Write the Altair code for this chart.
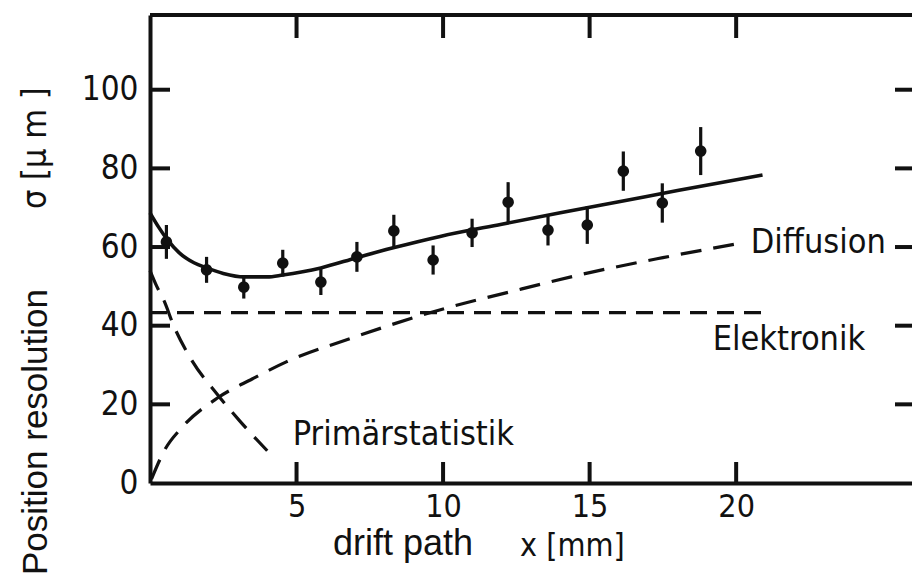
import altair as alt
import pandas as pd

# ---- data ----
pt_x = [0.56, 1.93, 3.2, 4.53, 5.83, 7.06, 8.32, 9.66, 10.99, 12.22, 13.58, 14.92, 16.15, 17.48, 18.79]
pt_sigma = [61.3, 54.2, 49.8, 55.9, 51.1, 57.5, 64.1, 56.7, 63.6, 71.4, 64.3, 65.6, 79.3, 71.2, 84.4]
pt_err = [4.3, 3.3, 2.9, 3.4, 3.3, 3.8, 4.1, 3.7, 3.6, 5.1, 3.9, 4.8, 5.0, 5.0, 6.1]

fit_x = [0, 0.3, 0.6, 1.0, 1.5, 1.93, 2.5, 3.2, 4.0, 4.53, 5.83, 7.06, 8.3, 9.9, 12, 14, 16, 18, 20.9]
fit_sigma = [68.7, 65, 61.8, 58.5, 56, 54.7, 53.3, 52.4, 52.4, 52.9, 54.7, 57.3, 59.8, 62.7, 65.8, 68.7, 71.5, 74.4, 78.3]

diff_x = [0.05, 0.5, 1.1, 2.3, 3.5, 4.65, 6.9, 9.55, 12.5, 15, 17.5, 20.15]
diff_sigma = [1, 8.4, 14.2, 21.6, 26.5, 30.8, 36.9, 43.3, 49.0, 53.5, 57.3, 61.0]

prim_x = [0, 0.2, 0.5, 0.78, 1.36, 2.3, 3.06, 4.0]
prim_sigma = [54, 50.5, 46, 40.5, 32, 22.5, 15.8, 8.2]

elek_x = [0, 20.9]
elek_sigma = [43.3, 43.3]

label_text = ["Diffusion", "Elektronik", "Primärstatistik"]
label_x = [20.5, 19.2, 4.87]
label_sigma = [58.5, 33.8, 9.67]

y_tick_labels = [0, 20, 40, 60, 80, 100]
y_tick_marks = [20, 40, 60, 80, 100]
x_tick_labels = [5, 10, 15, 20]

# ---- styling ----
W, H = 762, 468
INK = "#111111"
DIN_FONT = "DejaVu Sans Condensed, DejaVu Sans, sans-serif"
SANS = "Liberation Sans, Arial, sans-serif"

xs = alt.Scale(domain=[0, 26], nice=False, zero=False)
ys = alt.Scale(domain=[0, 119], nice=False, zero=False)

x_axis = alt.Axis(values=x_tick_labels, ticks=False, grid=False, title=None,
                  domainWidth=4, domainColor=INK, labelFont=DIN_FONT,
                  labelFontSize=32, labelColor=INK, labelPadding=8, labelFlush=False)
y_axis = alt.Axis(values=y_tick_labels, ticks=False, grid=False, title=None,
                  domainWidth=4, domainColor=INK, labelFont=DIN_FONT,
                  labelFontSize=33, labelColor=INK, labelPadding=12, labelFlush=False)


def X(f):
    return alt.X(f, type="quantitative", scale=xs, axis=x_axis)


def Y(f):
    return alt.Y(f, type="quantitative", scale=ys, axis=y_axis)


pts = pd.DataFrame({
    "x": pt_x,
    "s": pt_sigma,
    "lo": [s - e for s, e in zip(pt_sigma, pt_err)],
    "hi": [s + e for s, e in zip(pt_sigma, pt_err)],
})

errbars = alt.Chart(pts).mark_rule(strokeWidth=3.2, color=INK).encode(
    x=X("x"), y=Y("lo"), y2="hi")
dots = alt.Chart(pts).mark_circle(size=135, color=INK, opacity=1).encode(
    x=X("x"), y=Y("s"))

fit = alt.Chart(pd.DataFrame({"x": fit_x, "s": fit_sigma})).mark_line(
    color=INK, strokeWidth=3.6, interpolate="monotone").encode(x=X("x"), y=Y("s"))
diff = alt.Chart(pd.DataFrame({"x": diff_x, "s": diff_sigma})).mark_line(
    color=INK, strokeWidth=3.2, strokeDash=[21, 12], interpolate="monotone").encode(x=X("x"), y=Y("s"))
prim = alt.Chart(pd.DataFrame({"x": prim_x, "s": prim_sigma})).mark_line(
    color=INK, strokeWidth=3.2, strokeDash=[21, 12], interpolate="monotone").encode(x=X("x"), y=Y("s"))
elek = alt.Chart(pd.DataFrame({"x": elek_x, "s": elek_sigma})).mark_line(
    color=INK, strokeWidth=3.2, strokeDash=[17, 10]).encode(x=X("x"), y=Y("s"))

labels = alt.Chart(pd.DataFrame({"x": label_x, "s": label_sigma, "t": label_text})).mark_text(
    align="left", baseline="alphabetic", font=DIN_FONT, fontSize=34, color=INK).encode(
    x=X("x"), y=Y("s"), text="t:N")

# frame ticks (pointing inward) and top border
ydf = pd.DataFrame({"v": y_tick_marks})
xdf = pd.DataFrame({"v": x_tick_labels})
one = pd.DataFrame({"a": [0]})

left_ticks = alt.Chart(ydf).mark_rule(strokeWidth=4, color=INK).encode(
    y=Y("v"), x=alt.value(0), x2=alt.value(20))
right_ticks = alt.Chart(ydf).mark_rule(strokeWidth=4, color=INK).encode(
    y=Y("v"), x=alt.value(W - 17), x2=alt.value(W))
top_ticks = alt.Chart(xdf).mark_rule(strokeWidth=4, color=INK).encode(
    x=X("v"), y=alt.value(0), y2=alt.value(23))
bottom_ticks = alt.Chart(xdf).mark_rule(strokeWidth=4, color=INK).encode(
    x=X("v"), y=alt.value(H), y2=alt.value(H - 21))
top_border = alt.Chart(one).mark_rule(strokeWidth=4, color=INK).encode(
    x=alt.value(0), x2=alt.value(W), y=alt.value(0))

# axis titles
t_pos = alt.Chart(one).mark_text(align="left", baseline="alphabetic", angle=270,
                                 font=SANS, fontSize=35, color=INK).encode(
    x=alt.value(-103), y=alt.value(560), text=alt.value("Position resolution"))
t_sig = alt.Chart(one).mark_text(align="left", baseline="alphabetic", angle=270,
                                 font=DIN_FONT, fontSize=34, color=INK).encode(
    x=alt.value(-104), y=alt.value(194), text=alt.value("σ [µ m ]"))
t_drift = alt.Chart(one).mark_text(align="left", baseline="alphabetic",
                                   font=SANS, fontSize=36, color=INK).encode(
    x=alt.value(183), y=alt.value(540), text=alt.value("drift path"))
t_xmm = alt.Chart(one).mark_text(align="left", baseline="alphabetic",
                                 font=DIN_FONT, fontSize=32, color=INK).encode(
    x=alt.value(370), y=alt.value(541), text=alt.value("x  [mm]"))

chart = alt.layer(
    elek, diff, prim, fit, errbars, dots, labels,
    left_ticks, right_ticks, top_ticks, bottom_ticks, top_border,
    t_pos, t_sig, t_drift, t_xmm,
).properties(
    width=W, height=H,
    padding={"left": 150, "top": 15, "right": 0, "bottom": 91},
    autosize=alt.AutoSizeParams(type="none"),
    background="white",
).configure_view(stroke=None)

chart.save("out.html", embed_options={"renderer": "svg", "actions": False})
